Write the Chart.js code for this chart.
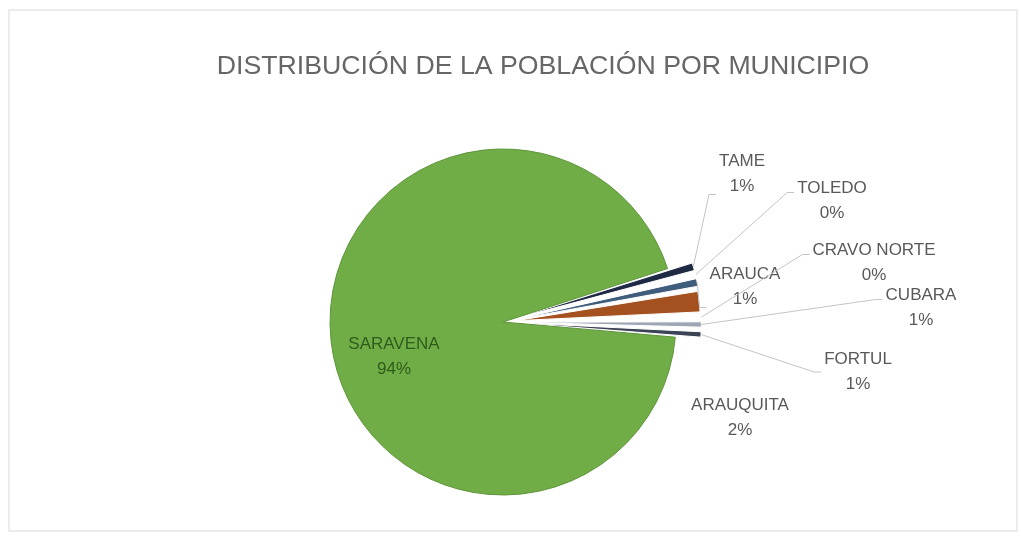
<!DOCTYPE html>
<html lang="es">
<head>
<meta charset="utf-8">
<title>Distribución de la población por municipio</title>
<script src="https://cdn.jsdelivr.net/npm/chart.js@4/dist/chart.umd.min.js"></script>
<style>
  html, body { margin: 0; padding: 0; background: #ffffff; }
  #marco { position: relative; width: 1021px; height: 540px; }
  #borde {
    position: absolute; left: 8px; top: 9px; width: 1006px; height: 519px;
    border: 2px solid #ececec; pointer-events: none;
  }
  canvas { position: absolute; left: 0; top: 0; }
</style>
</head>
<body>
<div id="marco">
  <canvas id="grafico" width="1021" height="540"></canvas>
  <div id="borde"></div>
</div>
<script>
// Datos: participación de cada municipio en la población (%)
const titulo = "DISTRIBUCIÓN DE LA POBLACIÓN POR MUNICIPIO";
const municipios = ["TAME", "TOLEDO", "ARAUCA", "ARAUQUITA", "CRAVO NORTE", "CUBARA", "FORTUL", "SARAVENA"];
const poblacion = [1.0, 0.3, 1.0, 2.1, 0.4, 0.8, 0.8, 93.6];
const colores = ["#1f2a44", "#2c4563", "#3f5d7c", "#a5501f", "#d8c49b", "#9ea6b4", "#3b4354", "#70ad47"];
const bordes = ["#ffffff", "#ffffff", "#ffffff", "#ffffff", "#ffffff", "#ffffff", "#ffffff", "#5e9439"];
const separacion = [52, 52, 52, 52, 52, 52, 52, 0];

// ubicación de las etiquetas respecto al centro del pastel y punto de salida de la guía
const etiquetas = {
  "TAME":        { dx: 239, dy: -148, guia: "abajo" },
  "TOLEDO":      { dx: 329, dy: -121, guia: "arriba" },
  "ARAUCA":      { dx: 242, dy: -35,  guia: "abajo" },
  "CRAVO NORTE": { dx: 371, dy: -59,  guia: "arriba" },
  "ARAUQUITA":   { dx: 237, dy: 96,   guia: null },
  "CUBARA":      { dx: 418, dy: -14,  guia: "arriba" },
  "FORTUL":      { dx: 355, dy: 50,   guia: "medio" },
  "SARAVENA":    { dx: -109, dy: 35,  guia: null }
};

const total = poblacion.reduce((a, b) => a + b, 0);

// titulo del grafico
const pluginTitulo = {
  id: "titulo",
  afterDraw(chart) {
    const ctx = chart.ctx;
    ctx.save();
    ctx.font = "26.7px 'Liberation Sans', Arial, sans-serif";
    ctx.fillStyle = "#666666";
    ctx.textAlign = "center";
    ctx.textBaseline = "alphabetic";
    ctx.fillText(titulo, 543, 74);
    ctx.restore();
  }
};

// etiquetas con nombre y porcentaje, con líneas guía hacia cada porción
const pluginEtiquetas = {
  id: "etiquetas",
  afterDatasetsDraw(chart) {
    const ctx = chart.ctx;
    const arcos = chart.getDatasetMeta(0).data;
    const interlinea = 25;
    ctx.save();
    ctx.font = "17px 'Liberation Sans', Arial, sans-serif";
    ctx.textAlign = "center";
    ctx.textBaseline = "middle";
    arcos.forEach((arco, i) => {
      const nombre = municipios[i];
      const pos = etiquetas[nombre];
      const p = arco.getProps(["x", "y", "startAngle", "endAngle", "outerRadius", "circumference"], true);
      const cx = p.x + pos.dx;
      const cy = p.y + pos.dy;
      const texto = [nombre, Math.round(poblacion[i] / total * 100) + "%"];
      const ancho = Math.max(...texto.map(t => ctx.measureText(t).width));

      if (pos.guia) {
        // punto exterior de la porción, teniendo en cuenta su desplazamiento
        const off = (arco.options.offset || 0) / 4;
        const fix = 1 - Math.sin(Math.min(Math.PI, p.circumference || 0));
        const mitad = (p.startAngle + p.endAngle) / 2;
        const r = p.outerRadius + off * fix + off;
        const ax = p.x + Math.cos(mitad) * r;
        const ay = p.y + Math.sin(mitad) * r;
        let gy = cy;
        if (pos.guia === "arriba") gy = cy - interlinea / 2 + 4;
        if (pos.guia === "abajo") gy = cy + interlinea / 2 + 8;
        const gx = cx - ancho / 2 - 3;
        ctx.strokeStyle = "#c4c4c4";
        ctx.lineWidth = 1;
        ctx.beginPath();
        ctx.moveTo(gx, gy);
        ctx.lineTo(gx - 7, gy);
        ctx.lineTo(ax, ay);
        ctx.stroke();
      }

      ctx.fillStyle = nombre === "SARAVENA" ? "#2f5c1b" : "#595959";
      ctx.fillText(texto[0], cx, cy - interlinea / 2);
      ctx.fillText(texto[1], cx, cy + interlinea / 2);
    });
    ctx.restore();
  }
};

const config = {
  type: "pie",
  data: {
    labels: municipios,
    datasets: [{
      data: poblacion,
      backgroundColor: colores,
      borderColor: bordes,
      borderWidth: 1,
      offset: separacion,
      radius: 173,
      rotation: 72
    }]
  },
  options: {
    responsive: false,
    animation: false,
    layout: { padding: { left: 0, right: 15, top: 104, bottom: 0 } },
    plugins: {
      legend: { display: false },
      title: { display: false },
      tooltip: { enabled: false }
    }
  },
  plugins: [pluginTitulo, pluginEtiquetas]
};

const chart = new Chart(document.getElementById("grafico").getContext("2d"), config);
</script>
</body>
</html>
